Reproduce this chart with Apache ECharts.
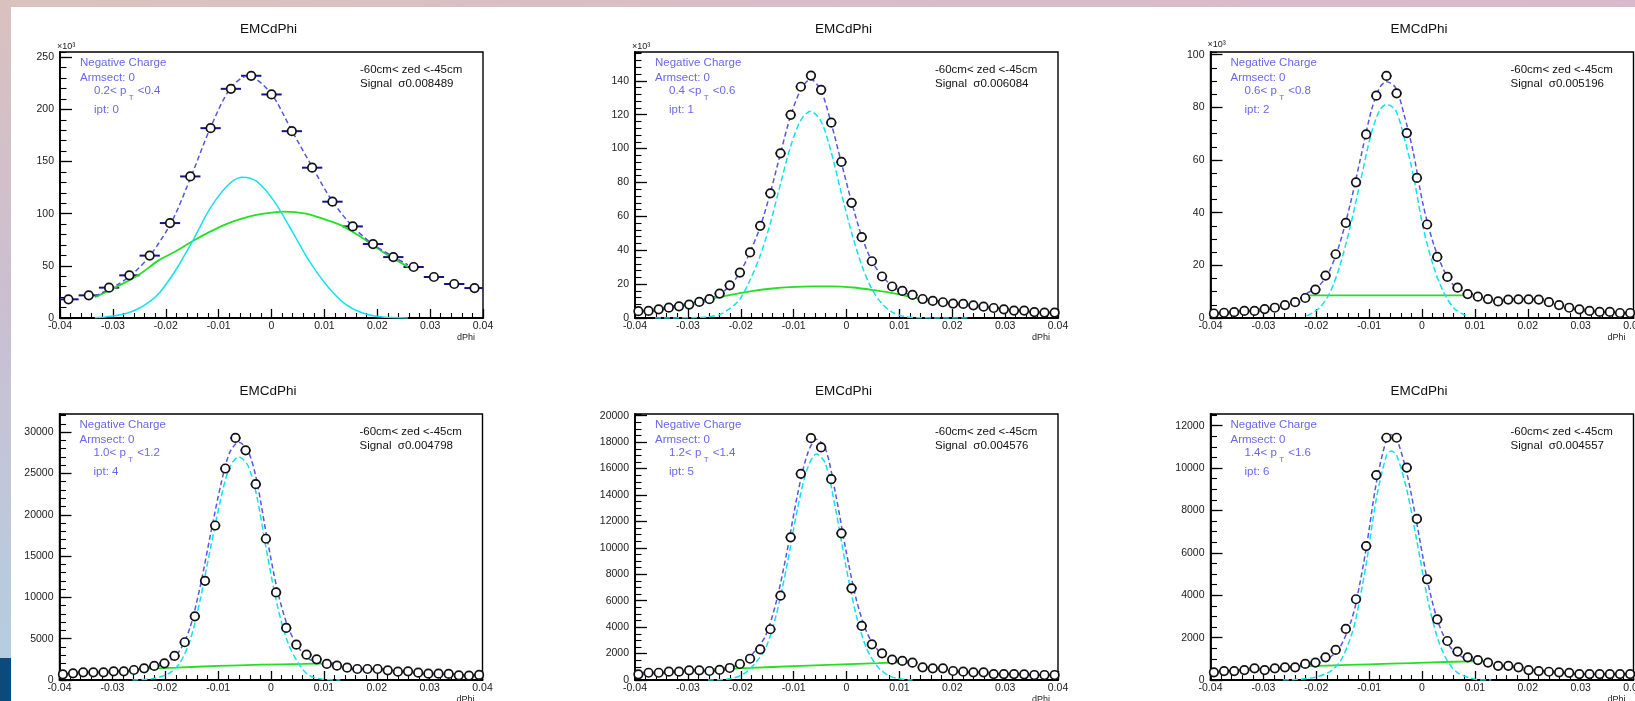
<!DOCTYPE html>
<html>
<head>
<meta charset="utf-8">
<script src="https://cdn.jsdelivr.net/npm/echarts@6/dist/echarts.min.js"></script>
<style>
html,body{margin:0;padding:0;background:#fff;}
#c{width:1635px;height:701px;}
</style>
</head>
<body>
<div id="c"></div>
<script>
// ---------------- DATA ----------------
const xCoarse = [-0.0384, -0.03456, -0.03072, -0.02688, -0.02304, -0.0192, -0.01536, -0.01152, -0.00768, -0.00384, 0, 0.00384, 0.00768, 0.01152, 0.01536, 0.0192, 0.02304, 0.02688, 0.03072, 0.03456, 0.0384];
const xFine = [-0.03936, -0.03744, -0.03552, -0.0336, -0.03168, -0.02976, -0.02784, -0.02592, -0.024, -0.02208, -0.02016, -0.01824, -0.01632, -0.0144, -0.01248, -0.01056, -0.00864, -0.00672, -0.0048, -0.00288, -0.00096, 0.00096, 0.00288, 0.0048, 0.00672, 0.00864, 0.01056, 0.01248, 0.0144, 0.01632, 0.01824, 0.02016, 0.02208, 0.024, 0.02592, 0.02784, 0.02976, 0.03168, 0.0336, 0.03552, 0.03744, 0.03936];
const binHalfCoarse = 0.00192;
const binHalfFine = 0.00096;

const p1Counts = [17900, 21700, 29100, 40900, 59800, 91000, 135700, 182000, 219700, 232200, 214300, 179100, 144100, 111500, 87800, 70900, 58400, 48900, 39300, 32600, 28700];
const p2Counts = [4000, 4200, 5100, 6100, 6900, 7900, 9500, 11100, 14400, 19300, 26800, 38700, 54400, 73600, 97200, 119900, 136500, 143100, 134700, 115300, 92100, 68000, 47700, 33500, 24500, 18600, 16000, 13600, 11200, 10100, 9300, 8500, 8300, 7500, 6700, 5900, 5100, 4400, 4400, 3500, 3200, 3200];
const p3Counts = [1700, 2000, 2200, 2700, 2700, 3400, 3900, 4900, 6000, 7600, 10800, 16100, 24200, 36100, 51500, 69700, 84400, 91900, 85300, 70200, 53200, 35500, 23200, 15600, 11500, 9100, 8100, 7200, 6300, 7000, 7100, 7100, 7000, 6000, 4900, 3900, 3300, 2700, 2300, 2300, 1900, 1900];
const p4Counts = [690, 810, 930, 930, 930, 1050, 1050, 1210, 1410, 1700, 2020, 2910, 4570, 7710, 12000, 18700, 25600, 29300, 27800, 23700, 17100, 10600, 6300, 4280, 3060, 2500, 1940, 1740, 1490, 1330, 1330, 1330, 1170, 1010, 1050, 890, 770, 770, 730, 570, 530, 610];
const p5Counts = [430, 550, 550, 630, 630, 730, 730, 680, 760, 910, 1210, 1610, 2320, 3840, 6380, 10800, 15600, 18300, 17600, 15200, 11100, 6940, 4090, 2700, 2020, 1540, 1440, 1310, 960, 880, 880, 680, 630, 580, 580, 450, 450, 450, 430, 380, 380, 380];
const p6Counts = [360, 420, 420, 470, 550, 470, 550, 600, 600, 760, 820, 1070, 1420, 2410, 3810, 6320, 9670, 11430, 11430, 10020, 7600, 4750, 2860, 1840, 1340, 1070, 940, 820, 670, 670, 600, 470, 420, 390, 360, 340, 280, 280, 280, 280, 280, 280];

// fit curves: signal (cyan), background (green), total (blue dashed)
const p1SigX = [-0.0334, -0.0314, -0.0281, -0.0248, -0.0214, -0.0181, -0.0148, -0.0115, -0.0081, -0.0056, -0.0028, 0.0005, 0.0038, 0.0071, 0.0105, 0.0138, 0.0171, 0.0205, 0.0258];
const p1SigY = [300, 1000, 3500, 10000, 23000, 46000, 75000, 106000, 128000, 135000, 131000, 112000, 84000, 55000, 31000, 14000, 5000, 1200, 100];
const p1BkgX = [-0.0334, -0.0281, -0.0248, -0.0214, -0.0181, -0.0148, -0.0115, -0.0081, -0.0048, -0.0015, 0.0025, 0.0065, 0.0098, 0.0131, 0.0165, 0.0191, 0.0218, 0.0258];
const p1BkgY = [20000, 33000, 42500, 55000, 64000, 74000, 83000, 91000, 96500, 100000, 102000, 100000, 95000, 89000, 79000, 70000, 61000, 49000];
const p1TotX = [-0.0334, -0.0294, -0.0261, -0.0228, -0.0188, -0.0151, -0.0115, -0.0078, -0.0045, -0.0002, 0.0038, 0.0078, 0.0115, 0.0153, 0.0191, 0.0230, 0.0258];
const p1TotY = [21000, 31000, 43000, 61000, 93000, 137000, 183000, 220000, 232000, 216000, 180000, 144000, 112000, 88000, 71000, 59000, 51000];

const p2SigX = [-0.0362, -0.0290, -0.0260, -0.0240, -0.0221, -0.0202, -0.0183, -0.0163, -0.0144, -0.0125, -0.0106, -0.0086, -0.0068, -0.0048, -0.0029, -0.0010, 0.0010, 0.0029, 0.0048, 0.0067, 0.0086, 0.0110, 0.0140, 0.0234];
const p2SigY = [0, 200, 800, 2000, 5500, 11000, 22000, 37000, 56000, 79000, 101000, 117000, 122000, 116000, 98000, 74000, 50000, 31000, 17000, 8500, 3500, 800, 100, 0];
const p2BkgX = [-0.0362, -0.0338, -0.0305, -0.0272, -0.0239, -0.0206, -0.0173, -0.0140, -0.0107, -0.0067, -0.0027, 0.0013, 0.0052, 0.0092, 0.0132, 0.0171, 0.0211, 0.0234];
const p2BkgY = [5200, 6400, 8100, 10100, 12400, 14400, 16200, 17400, 18200, 18700, 18700, 18000, 16400, 14400, 11800, 9900, 8500, 7500];
const p2TotX = [-0.0362, -0.0338, -0.0305, -0.0272, -0.0240, -0.0221, -0.0202, -0.0183, -0.0163, -0.0144, -0.0125, -0.0106, -0.0086, -0.0068, -0.0048, -0.0029, -0.0010, 0.0010, 0.0029, 0.0048, 0.0067, 0.0086, 0.0106, 0.0125, 0.0144, 0.0170, 0.0200, 0.0234];
const p2TotY = [5200, 6600, 8300, 10500, 14000, 19000, 26500, 38500, 54000, 74000, 97000, 119000, 135000, 141000, 134000, 115000, 92000, 68000, 48000, 33500, 25000, 19000, 15500, 13000, 11500, 10000, 8800, 7600];

const p3SigX = [-0.0218, -0.0195, -0.0175, -0.0156, -0.0136, -0.0116, -0.0096, -0.0080, -0.0067, -0.0050, -0.0034, -0.0017, 0.0002, 0.0022, 0.0042, 0.0061, 0.0078, 0.0084];
const p3SigY = [800, 3600, 9300, 19400, 34500, 52300, 70000, 78900, 81100, 78900, 68700, 54800, 34500, 19400, 9300, 3600, 1400, 1000];
const p3BkgX = [-0.0218, 0.0084];
const p3BkgY = [8600, 8600];
const p3TotX = [-0.0218, -0.0195, -0.0175, -0.0156, -0.0136, -0.0116, -0.0096, -0.0080, -0.0067, -0.0050, -0.0034, -0.0017, 0.0002, 0.0022, 0.0042, 0.0061, 0.0084];
const p3TotY = [9400, 12200, 17900, 28000, 43000, 60900, 78600, 87500, 89700, 87500, 77300, 63400, 43100, 28000, 17900, 12200, 9600];

const p4SigX = [-0.0262, -0.0220, -0.0193, -0.0173, -0.0153, -0.0134, -0.0114, -0.0094, -0.0078, -0.0061, -0.0044, -0.0028, -0.0008, 0.0012, 0.0032, 0.0052, 0.0071, 0.0098, 0.0131];
const p4SigY = [0, 200, 800, 2000, 4800, 9700, 16100, 22200, 25800, 27000, 26000, 22600, 15500, 9000, 4500, 2000, 600, 100, 0];
const p4BkgX = [-0.0262, -0.0180, -0.0100, -0.0020, 0.0060, 0.0131];
const p4BkgY = [1300, 1500, 1700, 1850, 1950, 2050];
const p4TotX = p4SigX;
const p4TotY = [1300, 1600, 2270, 3520, 6370, 11310, 17760, 23910, 27550, 28780, 27810, 24430, 17370, 10890, 6420, 3940, 2560, 2100, 2050];

const p5SigX = [-0.0262, -0.0219, -0.0193, -0.0173, -0.0153, -0.0133, -0.0113, -0.0093, -0.0074, -0.0057, -0.0040, -0.0021, -0.0001, 0.0019, 0.0039, 0.0059, 0.0079, 0.0099, 0.0125];
const p5SigY = [0, 100, 500, 1260, 2400, 4900, 8600, 12900, 16000, 17100, 16400, 13000, 8600, 4800, 2300, 1000, 350, 100, 0];
const p5BkgX = [-0.0262, -0.0180, -0.0100, -0.0020, 0.0060, 0.0125];
const p5BkgY = [800, 920, 1050, 1170, 1280, 1380];
const p5TotX = p5SigX;
const p5TotY = [800, 960, 1400, 2190, 3360, 5900, 9630, 13960, 17090, 18210, 17540, 14170, 9800, 6020, 3550, 2280, 1660, 1440, 1380];

const p6SigX = [-0.0263, -0.0207, -0.0174, -0.0154, -0.0135, -0.0125, -0.0106, -0.0086, -0.0067, -0.0058, -0.0048, -0.0029, -0.0010, 0.0010, 0.0029, 0.0048, 0.0067, 0.0090, 0.0110, 0.0131];
const p6SigY = [0, 100, 400, 900, 2000, 2900, 5400, 8600, 10600, 10800, 10600, 9000, 6600, 3900, 2000, 900, 350, 100, 0, 0];
const p6BkgX = [-0.0263, -0.0180, -0.0100, -0.0020, 0.0060, 0.0131];
const p6BkgY = [620, 680, 740, 800, 860, 890];
const p6TotX = p6SigX;
const p6TotY = [620, 760, 1080, 1600, 2710, 3620, 6140, 9350, 11360, 11570, 11380, 9790, 7410, 4720, 2840, 1750, 1210, 970, 880, 890];

// axis ranges / ticks
const yMaxes = [255000, 157000, 101000, 32200, 20130, 12550];
const yMajors = [50000, 20000, 20000, 5000, 2000, 2000];
const yMinors = [10000, 4000, 5000, 1000, 500, 500];
const yKilo = [true, true, true, false, false, false];

// text labels
const panelTitle = 'EMCdPhi';
const chargeLabel = 'Negative Charge';
const armLabel = 'Armsect: 0';
const zedLabel = '-60cm< zed <-45cm';
const ptLabels = [['0.2< p', '<0.4'], ['0.4 <p', '<0.6'], ['0.6< p', '<0.8'], ['1.0< p', '<1.2'], ['1.2< p', '<1.4'], ['1.4< p', '<1.6']];
const iptLabels = ['ipt: 0', 'ipt: 1', 'ipt: 2', 'ipt: 4', 'ipt: 5', 'ipt: 6'];
const sigmaLabels = ['Signal  \u03c30.008489', 'Signal  \u03c30.006084', 'Signal  \u03c30.005196', 'Signal  \u03c30.004798', 'Signal  \u03c30.004576', 'Signal  \u03c30.004557'];

// ---------------- LAYOUT ----------------
const FONT = '"Liberation Sans", Arial, Helvetica, sans-serif';
const frames = [
  {left: 60, top: 52}, {left: 635, top: 52}, {left: 1210.5, top: 52},
  {left: 59.5, top: 414}, {left: 635, top: 414}, {left: 1210.5, top: 414}
];
const FW = 423, FH = 266;

const panels = [
  {x: xCoarse, c: p1Counts, hb: binHalfCoarse, sig: [p1SigX, p1SigY], bkg: [p1BkgX, p1BkgY], tot: [p1TotX, p1TotY], cyanDash: false},
  {x: xFine, c: p2Counts, hb: binHalfFine, sig: [p2SigX, p2SigY], bkg: [p2BkgX, p2BkgY], tot: [p2TotX, p2TotY], cyanDash: true},
  {x: xFine, c: p3Counts, hb: binHalfFine, sig: [p3SigX, p3SigY], bkg: [p3BkgX, p3BkgY], tot: [p3TotX, p3TotY], cyanDash: true},
  {x: xFine, c: p4Counts, hb: binHalfFine, sig: [p4SigX, p4SigY], bkg: [p4BkgX, p4BkgY], tot: [p4TotX, p4TotY], cyanDash: true},
  {x: xFine, c: p5Counts, hb: binHalfFine, sig: [p5SigX, p5SigY], bkg: [p5BkgX, p5BkgY], tot: [p5TotX, p5TotY], cyanDash: true},
  {x: xFine, c: p6Counts, hb: binHalfFine, sig: [p6SigX, p6SigY], bkg: [p6BkgX, p6BkgY], tot: [p6TotX, p6TotY], cyanDash: true}
];

const measureCtx = document.createElement('canvas').getContext('2d');
function textWidth(str, size) { measureCtx.font = size + 'px ' + FONT; return measureCtx.measureText(str).width; }

function txt(x, y, text, size, color, align, vAlign) {
  return {
    type: 'text', x: x, y: y, silent: true, z: 10,
    style: {
      text: text, fill: color, font: size + 'px ' + FONT,
      align: align || 'left', textAlign: align || 'left',
      verticalAlign: vAlign || 'middle', textVerticalAlign: vAlign || 'middle'
    }
  };
}

const grid = [], xAxis = [], yAxis = [], series = [];
const graphic = [
  {type: 'rect', silent: true, z: 0, shape: {x: 0, y: 0, width: 1635, height: 7},
   style: {fill: {type: 'linear', x: 0, y: 0, x2: 1, y2: 0, colorStops: [
     {offset: 0, color: '#d9c3bc'}, {offset: 0.5, color: '#d8bcc8'}, {offset: 1, color: '#d8b9cb'}]}}},
  {type: 'rect', silent: true, z: 0, shape: {x: 0, y: 0, width: 11, height: 658},
   style: {fill: {type: 'linear', x: 0, y: 0, x2: 0, y2: 1, colorStops: [
     {offset: 0, color: '#d9c1bf'}, {offset: 0.45, color: '#cbbfd0'}, {offset: 1, color: '#b5cde0'}]}}},
  {type: 'rect', silent: true, z: 0, shape: {x: 0, y: 658, width: 11, height: 43}, style: {fill: '#0c4a7d'}}
];

const BLUE_TXT = '#6868ea';

panels.forEach((p, i) => {
  const f = frames[i];
  grid.push({left: f.left, top: f.top, width: FW, height: FH, show: true,
    borderColor: '#000', borderWidth: 1.4, backgroundColor: '#fff',
    containLabel: false, outerBoundsMode: 'none'});

  xAxis.push({
    type: 'value', gridIndex: i, min: -0.04, max: 0.04, interval: 0.01,
    axisLine: {show: true, onZero: false, lineStyle: {color: '#000', width: 1.8}},
    axisTick: {show: true, inside: true, length: 9, lineStyle: {color: '#000', width: 1.3}},
    minorTick: {show: true, splitNumber: 5, length: 5, lineStyle: {color: '#000', width: 1.1}},
    splitLine: {show: false}, minorSplitLine: {show: false},
    axisLabel: {show: true, margin: 3, fontSize: 10.5, color: '#1a1a1a', fontFamily: FONT,
      formatter: v => (Math.abs(v) < 1e-10 ? '0' : String(+v.toFixed(2)))},
    name: 'dPhi', nameLocation: 'end', nameGap: 0,
    nameTextStyle: {fontSize: 9, color: '#1a1a1a', fontFamily: FONT, align: 'right', verticalAlign: 'top', padding: [15, 8, 0, 0]}
  });

  const mainY = {
    type: 'value', gridIndex: i, position: 'left', offset: 0, min: 0, max: yMaxes[i], interval: yMajors[i],
    axisLine: {show: true, onZero: false, lineStyle: {color: '#000', width: 1.8}},
    axisTick: {show: true, inside: true, length: 12, lineStyle: {color: '#000', width: 1.3}},
    splitLine: {show: false},
    axisLabel: {show: true, margin: 6, fontSize: 10.5, color: '#1a1a1a', fontFamily: FONT, showMaxLabel: false,
      formatter: yKilo[i] ? (v => String(Math.round(v / 1000))) : (v => String(Math.round(v)))}
  };
  if (yKilo[i]) {
    mainY.name = '\u00d710\u00b3';
    mainY.nameLocation = 'end';
    mainY.nameGap = 1;
    mainY.nameTextStyle = {fontSize: 9, color: '#1a1a1a', fontFamily: FONT, align: 'left', padding: [0, 0, 0, -3]};
  }
  yAxis.push(mainY);
  yAxis.push({
    type: 'value', gridIndex: i, position: 'left', offset: 0, min: 0, max: yMaxes[i], interval: yMinors[i],
    axisLine: {show: false, onZero: false},
    axisTick: {show: true, inside: true, length: 6.5, lineStyle: {color: '#000', width: 1.1}},
    axisLabel: {show: false}, splitLine: {show: false}
  });

  const yi = i * 2;
  const hb = p.hb;
  const pts = p.x.map((v, k) => [v, p.c[k]]);

  series.push({
    type: 'custom', xAxisIndex: i, yAxisIndex: yi, clip: true, z: 2, silent: true,
    data: pts, encode: {x: 0, y: 1},
    renderItem: (params, api) => {
      const xv = api.value(0), yv = api.value(1);
      const a = api.coord([xv - hb, yv]);
      const b = api.coord([xv + hb, yv]);
      return {type: 'line', shape: {x1: a[0], y1: a[1], x2: b[0], y2: b[1]},
        style: {stroke: '#14148a', lineWidth: 2}};
    }
  });
  series.push({
    type: 'line', xAxisIndex: i, yAxisIndex: yi, z: 3, silent: true, showSymbol: false, smooth: 0.3,
    data: p.bkg[0].map((v, k) => [v, p.bkg[1][k]]),
    lineStyle: {color: '#22e022', width: 1.8, type: 'solid'}
  });
  series.push({
    type: 'line', xAxisIndex: i, yAxisIndex: yi, z: 3, silent: true, showSymbol: false, smooth: 0.3,
    data: p.sig[0].map((v, k) => [v, p.sig[1][k]]),
    lineStyle: {color: '#12e2ee', width: 1.5, type: p.cyanDash ? [6, 3] : 'solid'}
  });
  series.push({
    type: 'line', xAxisIndex: i, yAxisIndex: yi, z: 4, silent: true, showSymbol: false, smooth: 0.3,
    data: p.tot[0].map((v, k) => [v, p.tot[1][k]]),
    lineStyle: {color: '#5656e2', width: 1.5, type: [5, 3]}
  });
  series.push({
    type: 'scatter', xAxisIndex: i, yAxisIndex: yi, z: 5, silent: true,
    symbol: 'circle', symbolSize: 8.5, data: pts,
    itemStyle: {color: '#ffffff', borderColor: '#111111', borderWidth: 1.7, opacity: 1}
  });

  // texts
  const L = f.left, T = f.top;
  graphic.push(txt(L + FW / 2 - 3, T - 23, panelTitle, 13.5, '#111', 'center'));
  graphic.push(txt(L + 20, T + 11, chargeLabel, 11.5, BLUE_TXT));
  graphic.push(txt(L + 20, T + 26, armLabel, 11.5, BLUE_TXT));
  const wA = textWidth(ptLabels[i][0], 11.5);
  const wT = textWidth('T', 8);
  graphic.push(txt(L + 34, T + 39, ptLabels[i][0], 11.5, BLUE_TXT));
  graphic.push(txt(L + 34 + wA + 2.5, T + 46, 'T', 8, BLUE_TXT));
  graphic.push(txt(L + 34 + wA + 2.5 + wT + 4, T + 39, ptLabels[i][1], 11.5, BLUE_TXT));
  graphic.push(txt(L + 34, T + 58, iptLabels[i], 11.5, BLUE_TXT));
  graphic.push(txt(L + 300, T + 18, zedLabel, 11.5, '#111'));
  graphic.push(txt(L + 300, T + 31.5, sigmaLabels[i], 11.5, '#111'));
});

const chart = echarts.init(document.getElementById('c'), null, {renderer: 'canvas', width: 1635, height: 701});
chart.setOption({
  backgroundColor: '#ffffff',
  animation: false,
  textStyle: {fontFamily: FONT},
  grid: grid, xAxis: xAxis, yAxis: yAxis, series: series, graphic: graphic
});
</script>
</body>
</html>
